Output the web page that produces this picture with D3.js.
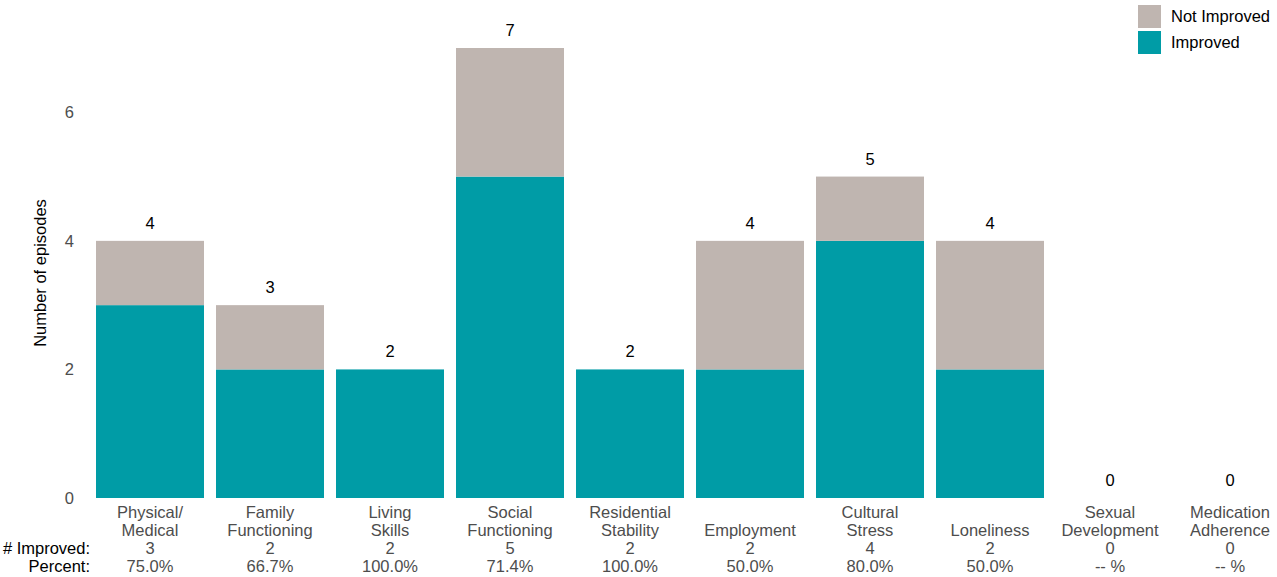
<!DOCTYPE html>
<html><head><meta charset="utf-8">
<script src="https://cdn.jsdelivr.net/npm/d3@7"></script>
<style>body{margin:0;background:#fff}svg{display:block;font-family:"Liberation Sans",Arial,sans-serif}</style>
</head><body><svg id="c" width="1277" height="577"></svg>
<script>
const categories = [["Physical/","Medical"],["Family","Functioning"],["Living","Skills"],["Social","Functioning"],["Residential","Stability"],["Employment"],["Cultural","Stress"],["Loneliness"],["Sexual","Development"],["Medication","Adherence"]];
const improved    = [3,2,2,5,2,2,4,2,0,0];
const notImproved = [1,1,0,2,0,2,1,2,0,0];
const yTicks = [0,2,4,6];
const seriesNames = ["Not Improved","Improved"];
const colors = {"Improved":"#009ca6","Not Improved":"#bfb5b0"};
const FS = 16.5;

const svg = d3.select("#c");
const keys = categories.map((c,i)=>i);
const x = d3.scaleBand().domain(keys).range([90,1290]).paddingInner(0.1).paddingOuter(0.05);
const y = d3.scaleLinear().domain([0,7]).range([498,48]);

svg.append("g").selectAll("text").data(yTicks).join("text")
  .attr("x",74).attr("y",d=>y(d)).attr("dy","0.35em").attr("text-anchor","end")
  .attr("font-size",FS).attr("fill","#4d4d4d").text(d=>d);
svg.append("text").attr("transform","translate(46,"+y(3.5)+") rotate(-90)")
  .attr("text-anchor","middle").attr("font-size",FS).attr("fill","#000").text("Number of episodes");

const data = keys.map(i=>({i, "Improved":improved[i], "Not Improved":notImproved[i]}));
const stack = d3.stack().keys(["Improved","Not Improved"])(data);
svg.append("g").selectAll("g").data(stack).join("g").attr("fill",s=>colors[s.key])
  .selectAll("rect").data(s=>s).join("rect")
  .attr("x",d=>x(d.data.i)).attr("width",x.bandwidth())
  .attr("y",d=>y(d[1])).attr("height",d=>y(d[0])-y(d[1]));

svg.append("g").selectAll("text").data(keys).join("text")
  .attr("x",i=>x(i)+x.bandwidth()/2).attr("y",i=>y(improved[i]+notImproved[i])-12)
  .attr("text-anchor","middle").attr("font-size",FS).attr("fill","#000")
  .text(i=>improved[i]+notImproved[i]);

const g = svg.append("g");
keys.forEach(i=>{
  const cx = x(i)+x.bandwidth()/2;
  const lines = categories[i];
  const startY = lines.length===2 ? 518 : 536;
  lines.forEach((l,j)=>{
    g.append("text").attr("x",cx).attr("y",startY+j*18).attr("text-anchor","middle")
      .attr("font-size",FS).attr("fill","#4d4d4d").text(l);
  });
  g.append("text").attr("x",cx).attr("y",554).attr("text-anchor","middle")
    .attr("font-size",FS).attr("fill","#4d4d4d").text(improved[i]);
  const tot = improved[i]+notImproved[i];
  g.append("text").attr("x",cx).attr("y",572).attr("text-anchor","middle")
    .attr("font-size",FS).attr("fill","#4d4d4d")
    .text(tot>0 ? (improved[i]/tot*100).toFixed(1)+"%" : "-- %");
});
g.append("text").attr("x",90).attr("y",554).attr("text-anchor","end").attr("font-size",FS).attr("fill","#000").text("# Improved:");
g.append("text").attr("x",90).attr("y",572).attr("text-anchor","end").attr("font-size",FS).attr("fill","#000").text("Percent:");

const lg = svg.append("g");
seriesNames.forEach((n,j)=>{
  lg.append("rect").attr("x",1138).attr("y",5+j*26).attr("width",23).attr("height",23).attr("fill",colors[n]);
  lg.append("text").attr("x",1171).attr("y",5+j*26+11.5).attr("dy","0.35em").attr("font-size",FS).attr("fill","#000").text(n);
});
</script></body></html>
